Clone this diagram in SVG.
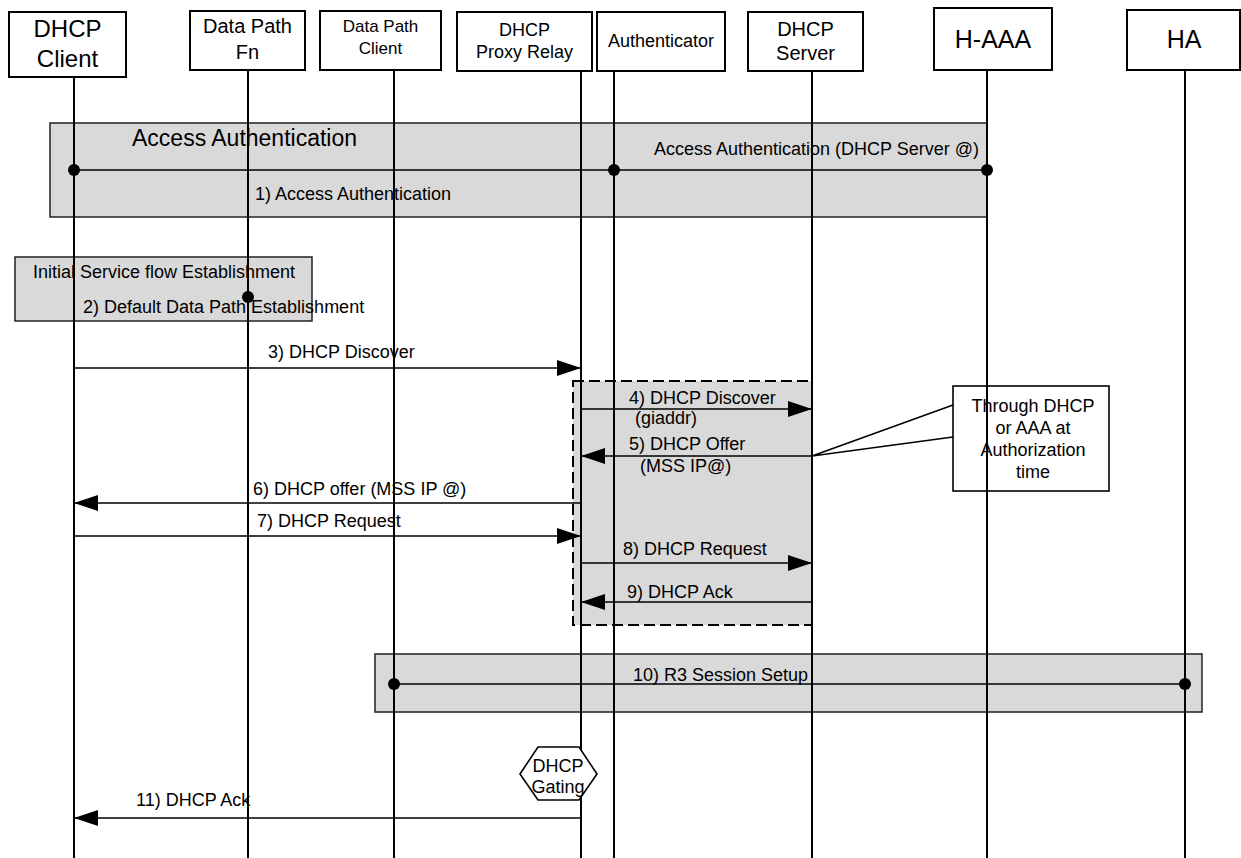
<svg xmlns="http://www.w3.org/2000/svg" width="1241" height="858" viewBox="0 0 1241 858">
<style>
text{font-family:"Liberation Sans",Arial,sans-serif;fill:#000}
.box{fill:#fff;stroke:#000;stroke-width:2}
.grp{fill:#d9d9d9;stroke:#222;stroke-width:1.5}
.dash{fill:#d9d9d9;stroke:#000;stroke-width:2;stroke-dasharray:11,5}
.life{stroke:#000;stroke-width:2}
.msg{stroke:#000;stroke-width:1.6;fill:none}
.arr{stroke:#000;stroke-width:1.6;fill:none;marker-end:url(#ah)}
.m{font-size:18px}
.c{text-anchor:middle}
</style>
<defs>
<marker id="ah" markerUnits="userSpaceOnUse" markerWidth="24" markerHeight="16" refX="24" refY="8" orient="auto">
<path d="M0,0 L24,8 L0,16 z" fill="#000"/>
</marker>
</defs>
<rect width="1241" height="858" fill="#fff"/>

<!-- group backgrounds -->
<g id="access-auth-box">
<rect class="grp" x="50" y="123" width="937" height="94"/>
<text x="132" y="146" style="font-size:23px">Access Authentication</text>
<text class="m" x="255" y="200">1) Access Authentication</text>
<text class="m" x="654" y="155">Access Authentication (DHCP Server @)</text>
</g>
<g id="initial-sf-box">
<rect class="grp" x="15" y="257" width="297" height="64"/>
<text class="m" x="33" y="278">Initial Service flow Establishment</text>
<text class="m" x="83" y="313">2) Default Data Path Establishment</text>
</g>
<g id="dhcp-relay-box">
<rect class="dash" x="573" y="381" width="239" height="244"/>
</g>
<g id="r3-box">
<rect class="grp" x="375" y="654" width="827" height="58"/>
</g>

<!-- lifelines -->
<g id="lifelines">
<line class="life" x1="74" y1="77" x2="74" y2="858"/>
<line class="life" x1="248" y1="70" x2="248" y2="858"/>
<line class="life" x1="394" y1="70" x2="394" y2="858"/>
<line class="life" x1="581" y1="71" x2="581" y2="858"/>
<line class="life" x1="614" y1="71" x2="614" y2="858"/>
<line class="life" x1="812" y1="71" x2="812" y2="858"/>
<line class="life" x1="987" y1="70" x2="987" y2="858"/>
<line class="life" x1="1185" y1="70" x2="1185" y2="858"/>
</g>

<!-- nodes -->
<g id="dhcp-client">
<rect class="box" x="9" y="12" width="117" height="65"/>
<text class="c" x="67.5" y="37" style="font-size:24px">DHCP</text>
<text class="c" x="67.5" y="67" style="font-size:24px">Client</text>
</g>
<g id="data-path-fn">
<rect class="box" x="190" y="11" width="115" height="59"/>
<text class="c" x="247.5" y="33" style="font-size:20px">Data Path</text>
<text class="c" x="247.5" y="59" style="font-size:20px">Fn</text>
</g>
<g id="data-path-client">
<rect class="box" x="320" y="11" width="121" height="59"/>
<text class="c" x="380.5" y="32" style="font-size:17px">Data Path</text>
<text class="c" x="380.5" y="54" style="font-size:17px">Client</text>
</g>
<g id="dhcp-proxy-relay">
<rect class="box" x="457" y="12" width="135" height="59"/>
<text class="c m" x="524.5" y="36">DHCP</text>
<text class="c m" x="524.5" y="58">Proxy Relay</text>
</g>
<g id="authenticator">
<rect class="box" x="597" y="12" width="128" height="59"/>
<text class="c m" x="661" y="47">Authenticator</text>
</g>
<g id="dhcp-server">
<rect class="box" x="748" y="12" width="115" height="59"/>
<text class="c" x="805.5" y="36" style="font-size:20px">DHCP</text>
<text class="c" x="805.5" y="60" style="font-size:20px">Server</text>
</g>
<g id="h-aaa">
<rect class="box" x="934" y="8" width="118" height="62"/>
<text class="c" x="993" y="48" style="font-size:25px">H-AAA</text>
</g>
<g id="ha">
<rect class="box" x="1127" y="10" width="113" height="60"/>
<text class="c" x="1184" y="48" style="font-size:25px">HA</text>
</g>

<!-- connectors -->
<g id="connectors">
<line class="msg" x1="74" y1="170" x2="987" y2="170"/>
<circle cx="74" cy="170" r="6"/>
<circle cx="614" cy="170" r="6"/>
<circle cx="987" cy="170" r="6"/>

<circle cx="248" cy="297" r="6"/>

<line class="arr" x1="74" y1="368" x2="581" y2="368"/>
<text class="m" x="268" y="358">3) DHCP Discover</text>

<line class="arr" x1="581" y1="409" x2="812" y2="409"/>
<text class="m" x="629" y="404">4) DHCP Discover</text>
<text class="m" x="635" y="424">(giaddr)</text>

<line class="arr" x1="812" y1="456" x2="581" y2="456"/>
<text class="m" x="629" y="450">5) DHCP Offer</text>
<text class="m" x="640" y="472">(MSS IP@)</text>

<line class="arr" x1="581" y1="503" x2="74" y2="503"/>
<text class="m" x="253" y="495">6) DHCP offer (MSS IP @)</text>

<line class="arr" x1="74" y1="536" x2="581" y2="536"/>
<text class="m" x="257" y="527">7) DHCP Request</text>

<line class="arr" x1="581" y1="563" x2="812" y2="563"/>
<text class="m" x="623" y="555">8) DHCP Request</text>

<line class="arr" x1="812" y1="602" x2="581" y2="602"/>
<text class="m" x="627" y="598">9) DHCP Ack</text>

<line class="msg" x1="394" y1="684" x2="1185" y2="684"/>
<circle cx="394" cy="684" r="6"/>
<circle cx="1185" cy="684" r="6"/>
<text class="m" x="633" y="681">10) R3 Session Setup</text>

<line class="arr" x1="581" y1="818" x2="74" y2="818"/>
<text class="m" x="136" y="806">11) DHCP Ack</text>
</g>

<!-- callout note -->
<g id="callout">
<path d="M953,405 L812,456 L953,437" fill="none" stroke="#000" stroke-width="1.6"/>
<rect x="953" y="386" width="156" height="105" fill="none" stroke="#000" stroke-width="1.6"/>
<text class="c m" x="1033" y="412">Through DHCP</text>
<text class="c m" x="1033" y="434">or AAA at</text>
<text class="c m" x="1033" y="456">Authorization</text>
<text class="c m" x="1033" y="478">time</text>
</g>

<!-- DHCP gating -->
<g id="dhcp-gating">
<polygon points="520,774 538,747 579,747 597,774 579,800 538,800" fill="#fff" stroke="#000" stroke-width="1.6"/>
<text class="c m" x="558" y="772">DHCP</text>
<text class="c m" x="558" y="793">Gating</text>
</g>
</svg>
